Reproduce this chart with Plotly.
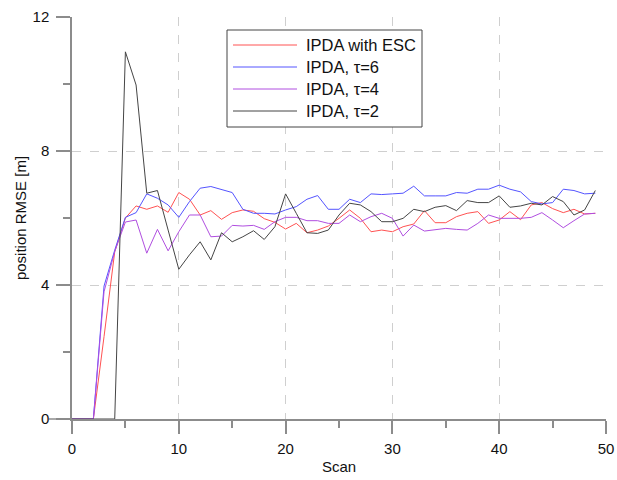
import plotly.graph_objects as go

# Scan index and position RMSE for each tracker
scan = list(range(50))

rmse_esc = [0, 0, 0, 2.46, 4.99, 6.0, 6.36, 6.26, 6.36, 6.17,
            6.76, 6.56, 6.09, 6.22, 5.96, 6.16, 6.24, 6.2, 5.98, 5.87,
            5.67, 5.84, 5.56, 5.64, 5.76, 5.99, 6.24, 5.99, 5.59, 5.64,
            5.59, 5.74, 5.82, 6.22, 5.86, 5.86, 6.04, 6.14, 6.19, 5.84,
            5.94, 6.19, 5.95, 6.39, 6.46, 6.28, 6.16, 6.26, 6.12, 6.14]

rmse_tau6 = [0, 0, 0, 3.97, 5.04, 6.02, 6.16, 6.72, 6.59, 6.39,
             6.02, 6.49, 6.89, 6.94, 6.86, 6.76, 6.26, 6.14, 6.14, 6.12,
             6.24, 6.34, 6.56, 6.67, 6.26, 6.26, 6.56, 6.46, 6.72, 6.7,
             6.72, 6.74, 6.95, 6.66, 6.66, 6.66, 6.76, 6.74, 6.86, 6.86,
             6.98, 6.86, 6.78, 6.49, 6.42, 6.46, 6.86, 6.82, 6.72, 6.74]

rmse_tau4 = [0, 0, 0, 3.8, 5.0, 5.88, 5.94, 4.95, 5.66, 5.02,
             5.59, 6.09, 6.09, 5.44, 5.46, 5.78, 5.76, 5.78, 5.66, 5.89,
             6.02, 6.02, 5.92, 5.92, 5.84, 5.84, 6.09, 5.89, 6.04, 6.14,
             5.99, 5.46, 5.79, 5.61, 5.64, 5.69, 5.66, 5.64, 5.84, 6.09,
             5.99, 5.99, 5.99, 6.02, 6.16, 5.94, 5.71, 5.92, 6.12, 6.14]

rmse_tau2 = [0, 0, 0, 0, 0, 10.96, 9.97, 6.74, 6.82, 5.64,
             4.47, 4.9, 5.29, 4.75, 5.56, 5.29, 5.44, 5.62, 5.36, 5.74,
             6.72, 6.14, 5.56, 5.54, 5.64, 6.09, 6.44, 6.39, 6.19, 5.89,
             5.89, 5.99, 6.26, 6.19, 6.32, 6.37, 6.22, 6.52, 6.46, 6.46,
             6.66, 6.32, 6.36, 6.44, 6.39, 6.64, 6.49, 6.09, 6.24, 6.82]

series_names = ["IPDA with ESC", "IPDA, \u03c4=6", "IPDA, \u03c4=4", "IPDA, \u03c4=2"]
series_values = [rmse_esc, rmse_tau6, rmse_tau4, rmse_tau2]
series_colors = ["#ff5252", "#5454ff", "#b04ee0", "#454545"]

x_ticks = [0, 10, 20, 30, 40, 50]
y_ticks = [0, 4, 8, 12]

FONT = "Liberation Sans, Arial, sans-serif"
W, H = 617, 480
L, R, T, B = 72, 11, 17, 61
PW, PH = W - L - R, H - T - B


def px_x(px):
    return (px - L) / PW


def px_y(py):
    return (H - B - py) / PH


fig = go.Figure()
for name, vals, col in zip(series_names, series_values, series_colors):
    fig.add_trace(go.Scatter(x=scan, y=vals, mode="lines", name=name,
                             line=dict(color=col, width=1), showlegend=False,
                             cliponaxis=False))

axis_col = "#8c8c8c"
grid_col = "#cfcfcf"

fig.update_xaxes(range=[0, 50], tickvals=x_ticks, showline=True, linecolor=axis_col,
                 linewidth=1.5, ticks="outside", ticklen=13, tickwidth=1.5,
                 tickcolor=axis_col, showgrid=True, gridcolor=grid_col,
                 griddash="dash", gridwidth=1, zeroline=False, automargin=False,
                 minor=dict(dtick=5, tick0=0, ticks="outside", ticklen=7,
                            tickwidth=1.5, tickcolor=axis_col, showgrid=False),
                 tickfont=dict(family=FONT, size=15, color="#111"),
                 ticklabelstandoff=2,
                 title=dict(text="Scan", font=dict(family=FONT, size=15, color="#111"),
                            standoff=6))
fig.update_yaxes(range=[0, 12], tickvals=y_ticks, showline=True, linecolor=axis_col,
                 linewidth=1.5, ticks="outside", ticklen=14, tickwidth=1.5,
                 tickcolor=axis_col, showgrid=True, gridcolor=grid_col,
                 griddash="dash", gridwidth=1, zeroline=False, automargin=False,
                 minor=dict(dtick=2, tick0=0, ticks="outside", ticklen=7,
                            tickwidth=1.5, tickcolor=axis_col, showgrid=False),
                 tickfont=dict(family=FONT, size=15, color="#111"),
                 ticklabelstandoff=4,
                 title=dict(text="position RMSE [m]",
                            font=dict(family=FONT, size=15, color="#111"), standoff=2))

shapes = [
    # x-axis line extension to the left of the origin
    dict(type="line", xref="paper", yref="paper", x0=px_x(49), x1=0, y0=0, y1=0,
         line=dict(color=axis_col, width=1.5)),
    # legend frame
    dict(type="rect", xref="paper", yref="paper", x0=px_x(227), x1=px_x(422),
         y0=px_y(127), y1=px_y(30), line=dict(color="#444", width=1),
         fillcolor="white", layer="above"),
]
annotations = []
row_y = [45, 67, 89, 111]
for name, col, ry in zip(series_names, series_colors, row_y):
    shapes.append(dict(type="line", xref="paper", yref="paper", x0=px_x(233), x1=px_x(297),
                       y0=px_y(ry), y1=px_y(ry), line=dict(color=col, width=1),
                       layer="above"))
    annotations.append(dict(xref="paper", yref="paper", x=px_x(304), y=px_y(ry),
                            text=name, showarrow=False, xanchor="left", yanchor="middle",
                            font=dict(family=FONT, size=16.5, color="#111")))

fig.update_layout(width=W, height=H, margin=dict(l=L, r=R, t=T, b=B),
                  plot_bgcolor="white", paper_bgcolor="white",
                  shapes=shapes, annotations=annotations)

fig.write_html("out.html")
